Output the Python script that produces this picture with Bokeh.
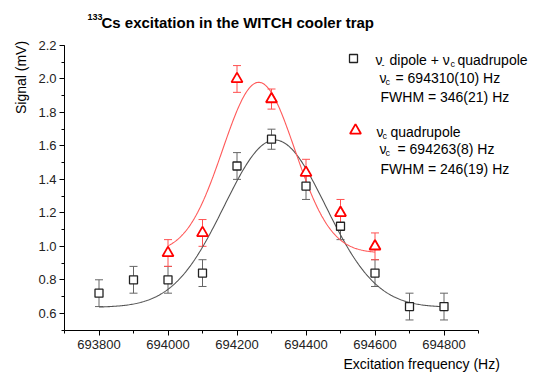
import numpy as np
from bokeh.plotting import figure
from bokeh.models import (ColumnDataSource, Whisker, TeeHead, Label, SingleIntervalTicker,
                          CustomJSTickFormatter)
from bokeh.embed import file_html
from bokeh.resources import INLINE

# ---- data ----
freq_dq = [693800, 693900, 694000, 694100, 694200, 694300, 694400, 694500, 694600, 694700, 694800]
sig_dq = [0.72, 0.80, 0.80, 0.84, 1.48, 1.64, 1.36, 1.12, 0.84, 0.64, 0.64]
err_dq = [0.08, 0.08, 0.08, 0.08, 0.08, 0.06, 0.08, 0.08, 0.08, 0.08, 0.08]

freq_q = [694000, 694100, 694200, 694300, 694400, 694500, 694600]
sig_q = [0.96, 1.08, 2.00, 1.88, 1.44, 1.20, 1.00]
err_q = [0.08, 0.08, 0.08, 0.06, 0.08, 0.08, 0.08]

fit_dq = dict(xc=694310, fwhm=346, y0=0.635, amp=1.0, x_from=693800, x_to=694800)
fit_q = dict(xc=694263, fwhm=246, y0=0.96, amp=1.02, x_from=694000, x_to=694600)

x_axis_bounds = (693700, 694900)
y_axis_bounds = (0.5, 2.2)

FONT = "Liberation Sans"
W, H = 536, 378
# pixel positions of the axes box on the canvas
PX_L, PX_R, PX_T, PX_B = 64, 478, 45, 329.5

kx = (x_axis_bounds[1] - x_axis_bounds[0]) / (PX_R - PX_L)
ky = (y_axis_bounds[1] - y_axis_bounds[0]) / (PX_B - PX_T)
x_start = x_axis_bounds[0] - PX_L * kx
y_end = y_axis_bounds[1] + PX_T * ky


def to_data(px, py):
    return x_start + px * kx, y_end - py * ky


def gauss_curve(f):
    x = np.linspace(f["x_from"], f["x_to"], 300)
    s = f["fwhm"] / (2 * np.sqrt(2 * np.log(2)))
    return x, f["y0"] + f["amp"] * np.exp(-0.5 * ((x - f["xc"]) / s) ** 2)


p = figure(width=W, height=H, output_backend="svg", toolbar_location=None,
           x_range=(x_start, x_start + W * kx), y_range=(y_end - H * ky, y_end),
           min_border=0)
p.outline_line_color = None
p.grid.visible = False
p.background_fill_color = "white"
p.border_fill_color = "white"

p.xaxis.fixed_location = y_axis_bounds[0]
p.yaxis.fixed_location = x_axis_bounds[0]
p.xaxis.bounds = x_axis_bounds
p.yaxis.bounds = y_axis_bounds

for ax in (p.xaxis[0], p.yaxis[0]):
    ax.major_tick_out = 5
    ax.major_tick_in = 0
    ax.minor_tick_out = 3
    ax.minor_tick_in = 0
    ax.axis_line_color = "black"
    ax.major_tick_line_color = "black"
    ax.minor_tick_line_color = "black"
    ax.major_label_text_font = FONT
    ax.major_label_text_font_size = "13px"
    ax.major_label_text_color = "#222222"

p.xaxis.ticker = SingleIntervalTicker(interval=200, num_minor_ticks=2)
p.yaxis.ticker = SingleIntervalTicker(interval=0.2, num_minor_ticks=2)
p.yaxis.formatter = CustomJSTickFormatter(code="return tick.toFixed(1);")
p.xaxis.formatter = CustomJSTickFormatter(code="return tick.toFixed(0);")
p.yaxis.major_label_standoff = 3
p.xaxis.major_label_standoff = 5

# fit curves
xd, yd = gauss_curve(fit_dq)
xq, yq = gauss_curve(fit_q)
p.line(xd, yd, line_color="#555555", line_width=1.1)
p.line(xq, yq, line_color="#ff5a5a", line_width=1.1)

# error bars
src_dq = ColumnDataSource(dict(x=freq_dq, y=sig_dq,
                               lo=[a - b for a, b in zip(sig_dq, err_dq)],
                               hi=[a + b for a, b in zip(sig_dq, err_dq)]))
src_q = ColumnDataSource(dict(x=freq_q, y=sig_q,
                              lo=[a - b for a, b in zip(sig_q, err_q)],
                              hi=[a + b for a, b in zip(sig_q, err_q)]))
for src, col in ((src_dq, "#666666"), (src_q, "#ff5050")):
    wk = Whisker(source=src, base="x", lower="lo", upper="hi", line_color=col, line_width=1,
                 lower_head=TeeHead(size=8, line_color=col, line_width=1),
                 upper_head=TeeHead(size=8, line_color=col, line_width=1))
    p.add_layout(wk)

SQ = dict(marker="square", size=8, line_color="#222222", line_width=1.3, fill_color="white")
TR = dict(marker="triangle", size=11, line_color="#ff0000", line_width=1.8, fill_color="white")
p.scatter("x", "y", source=src_dq, **SQ)
p.scatter("x", "y", source=src_q, **TR)

# legend markers
lx, ly = to_data(353, 58)
p.scatter([lx], [ly], **SQ)
lx, ly = to_data(355, 130)
p.scatter([lx], [ly], **TR)


# ---- texts (canvas pixels, measured from top-left) ----
def lab(x, y_top, text, size=14, bold=False, color="black", align="left", angle=0.0):
    p.add_layout(Label(x=x, y=H - y_top, x_units="screen", y_units="screen", text=text,
                       text_font=FONT, text_font_size=f"{size}px", text_color=color,
                       text_font_style="bold" if bold else "normal",
                       text_align=align, text_baseline="middle", angle=angle))


lab(87, 16, "133", size=9, bold=True)
lab(101, 22, "Cs excitation in the WITCH cooler trap", size=15, bold=True)
lab(20, 77, "Signal (mV)", size=14, align="center", angle=np.pi / 2)
lab(343, 363, "Excitation frequency (Hz)", size=14)

# legend block 1
lab(375, 59, "\u03bd", 14)
lab(381, 64, "-", 9)
lab(389, 59, "dipole + \u03bd", 14)
lab(450, 63, "c", 9)
lab(457, 59, "quadrupole", 14)
lab(379, 77, "\u03bd", 14)
lab(385, 81, "c", 9)
lab(395, 77, "= 694310(10) Hz", 14)
lab(380, 96, "FWHM = 346(21) Hz", 14)

# legend block 2
lab(376, 131, "\u03bd", 14)
lab(382, 135, "c", 9)
lab(390, 131, "quadrupole", 14)
lab(379, 148, "\u03bd", 14)
lab(385, 152, "c", 9)
lab(397, 148, "= 694263(8) Hz", 14)
lab(380, 168, "FWHM = 246(19) Hz", 14)

open("out.html", "w").write(file_html(p, INLINE))
